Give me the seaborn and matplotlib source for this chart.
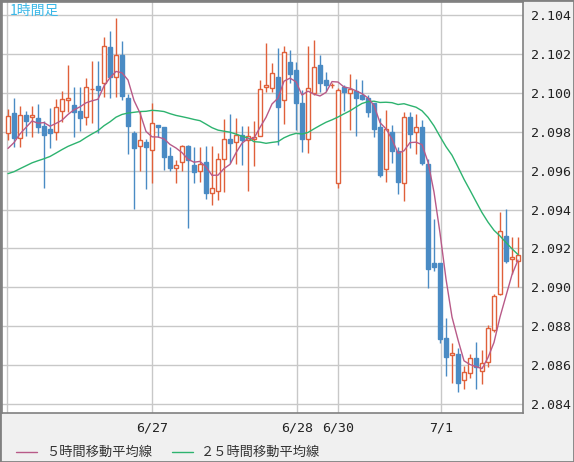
import numpy as np
import pandas as pd
import seaborn as sns
import matplotlib.pyplot as plt
from matplotlib.patches import Rectangle

# OHLC (hourly)
opens = [2.09793, 2.09896, 2.09768, 2.09886, 2.09876, 2.09870, 2.09829, 2.09814, 2.09798, 2.09906,
         2.09963, 2.09937, 2.09906, 2.09876, 2.10020, 2.10035, 2.10050, 2.10235, 2.10081, 2.10194,
         2.09973, 2.09793, 2.09726, 2.09747, 2.09706, 2.09834, 2.09824, 2.09675, 2.09613, 2.09644,
         2.09726, 2.09629, 2.09598, 2.09644, 2.09485, 2.09495, 2.09660, 2.09762, 2.09747, 2.09783,
         2.09757, 2.09762, 2.09778, 2.10030, 2.10025, 2.10081, 2.09963, 2.10158, 2.10117, 2.09948,
         2.09762, 2.09999, 2.10143, 2.10066, 2.10040, 2.09536, 2.10030, 2.09999, 2.10009, 2.09989,
         2.09973, 2.09948, 2.09824, 2.09608, 2.09798, 2.09701, 2.09536, 2.09876, 2.09798, 2.09824,
         2.09634, 2.09125, 2.09125, 2.08739, 2.08652, 2.08657, 2.08523, 2.08559, 2.08636, 2.08570,
         2.08616, 2.08780, 2.08966, 2.09264, 2.09145, 2.09135]
highs = [2.09917, 2.09973, 2.09932, 2.09906, 2.09932, 2.09942, 2.09855, 2.09922, 2.09968, 2.10009,
         2.10143, 2.10030, 2.10030, 2.10076, 2.10163, 2.10163, 2.10287, 2.10318, 2.10385, 2.10266,
         2.09994, 2.09804, 2.09906, 2.09762, 2.09948, 2.09834, 2.09824, 2.09721, 2.09655, 2.09732,
         2.09732, 2.09721, 2.09721, 2.09726, 2.09726, 2.09690, 2.09865, 2.09891, 2.09870, 2.09829,
         2.09829, 2.09855, 2.10066, 2.10256, 2.10153, 2.10230, 2.10241, 2.10220, 2.10158, 2.10014,
         2.10241, 2.10271, 2.10194, 2.10107, 2.10050, 2.10025, 2.10040, 2.10097, 2.10071, 2.10066,
         2.09989, 2.09948, 2.09870, 2.09912, 2.09834, 2.09721, 2.09901, 2.09901, 2.09891, 2.09860,
         2.09660, 2.09351, 2.09125, 2.08842, 2.08714, 2.08688, 2.08595, 2.08657, 2.08719, 2.08678,
         2.08806, 2.08966, 2.09387, 2.09403, 2.09259, 2.09259]
lows = [2.09757, 2.09721, 2.09721, 2.09778, 2.09773, 2.09793, 2.09511, 2.09716, 2.09757, 2.09850,
        2.09901, 2.09773, 2.09804, 2.09834, 2.09845, 2.09793, 2.09978, 2.09973, 2.09978, 2.09963,
        2.09685, 2.09403, 2.09598, 2.09505, 2.09536, 2.09773, 2.09603, 2.09598, 2.09536, 2.09598,
        2.09305, 2.09536, 2.09541, 2.09454, 2.09423, 2.09449, 2.09490, 2.09639, 2.09634, 2.09629,
        2.09495, 2.09624, 2.09778, 2.10004, 2.10004, 2.09732, 2.09840, 2.10050, 2.09809, 2.09696,
        2.09690, 2.09989, 2.10004, 2.10009, 2.10025, 2.09511, 2.09906, 2.09809, 2.09778, 2.09963,
        2.09876, 2.09773, 2.09567, 2.09541, 2.09639, 2.09480, 2.09444, 2.09716, 2.09685, 2.09629,
        2.08996, 2.09084, 2.08714, 2.08544, 2.08508, 2.08462, 2.08477, 2.08536, 2.08477, 2.08503,
        2.08590, 2.08770, 2.08960, 2.09125, 2.09068, 2.09001]
closes = [2.09881, 2.09768, 2.09886, 2.09855, 2.09886, 2.09824, 2.09783, 2.09793, 2.09927, 2.09968,
          2.09973, 2.09901, 2.09870, 2.10030, 2.10020, 2.10014, 2.10241, 2.10081, 2.10194, 2.09984,
          2.09829, 2.09716, 2.09757, 2.09721, 2.09845, 2.09824, 2.09670, 2.09613, 2.09629, 2.09726,
          2.09655, 2.09593, 2.09634, 2.09485, 2.09511, 2.09660, 2.09762, 2.09742, 2.09783, 2.09757,
          2.09778, 2.09773, 2.10020, 2.10040, 2.10102, 2.09927, 2.10210, 2.10097, 2.09948, 2.09762,
          2.10025, 2.10133, 2.10050, 2.10040, 2.10040, 2.10014, 2.10004, 2.10020, 2.09973, 2.09968,
          2.09901, 2.09814, 2.09577, 2.09814, 2.09701, 2.09541, 2.09876, 2.09788, 2.09824, 2.09639,
          2.09094, 2.09104, 2.08734, 2.08642, 2.08662, 2.08508, 2.08565, 2.08636, 2.08590, 2.08611,
          2.08791, 2.08955, 2.09289, 2.09135, 2.09156, 2.09166]
# closes before the visible window (estimated, only used to seed the 25h average)
prev_closes = [2.0952, 2.0950, 2.0948, 2.0951, 2.0955, 2.0953, 2.0950, 2.0949, 2.0952, 2.0956,
               2.0958, 2.0955, 2.0953, 2.0956, 2.0959, 2.0961, 2.0958, 2.0960, 2.0963, 2.0965,
               2.0962, 2.0966, 2.0969, 2.0972]

date_labels = ["", "6/27", "6/28", "6/30", "7/1"]
date_pos = [-0.17, 24, 48.2, 55, 72.2]

up_col = "#e0603a"
dn_col = "#4a8bc4"
ma5_col = "#b85a88"
ma25_col = "#2db36f"

df = pd.DataFrame({"open": opens, "high": highs, "low": lows, "close": closes})
df["i"] = np.arange(len(df))
full = pd.Series(prev_closes + closes)
df["ma5"] = full.rolling(5).mean().values[len(prev_closes):]
df["ma25"] = full.rolling(25, min_periods=1).mean().values[len(prev_closes):]

sns.set_style("white")
fig = plt.figure(figsize=(5.74, 4.62), dpi=100, facecolor="#f0f0f0")
ax = fig.add_axes([2/574, 49/462, 521/574, 411/462])
ax.set_facecolor("white")

yt = np.arange(2.084, 2.1041, 0.002)
for y in yt:
    ax.axhline(y, color="#c8c8c8", lw=1, zorder=0)
for x in date_pos:
    ax.axvline(x, color="#c8c8c8", lw=1, zorder=0)

w = 0.7
for r in df.itertuples():
    up = r.close >= r.open
    c = up_col if up else dn_col
    ax.vlines(r.i, r.low, r.high, color=c, lw=1, zorder=2)
    lo, hi = min(r.open, r.close), max(r.open, r.close)
    ax.add_patch(Rectangle((r.i - w/2, lo), w, max(hi - lo, 0.00002),
                           facecolor="white" if up else dn_col, edgecolor=c, lw=1, zorder=3))

sns.lineplot(data=df, x="i", y="ma25", color=ma25_col, lw=1, ax=ax, zorder=4)
sns.lineplot(data=df, x="i", y="ma5", color=ma5_col, lw=1, ax=ax, zorder=4)

ax.set_xlim(-1, -1 + 521/6)
ax.set_ylim(2.084 - 9/19450, 2.104 + 13/19450)
ax.yaxis.tick_right()
ax.set_yticks(yt)
ax.set_yticklabels([f"{v:.3f}" for v in yt])
ax.set_xticks(date_pos)
ax.set_xticklabels(date_labels)
ax.tick_params(length=0, labelsize=9.5, colors="#222222", pad=6)
for lbl in ax.get_xticklabels() + ax.get_yticklabels():
    lbl.set_family("DejaVu Sans Mono")
ax.set_xlabel("")
ax.set_ylabel("")
for s in ax.spines.values():
    s.set_color("#808080")
    s.set_linewidth(1.2)

ax.text(8/521, 1 - 2/411, "1時間足", transform=ax.transAxes, ha="left", va="top",
        color="#3bb8e8", fontsize=10, family=["Noto Sans CJK JP", "DejaVu Sans"])

# legend
fig.add_artist(plt.Line2D([16/574, 37/574], [10/462, 10/462], color=ma5_col, lw=1))
fig.text(46/574, 10/462, "５時間移動平均線", va="center", fontsize=9.5, color="#333333",
         family=["Noto Sans CJK JP", "DejaVu Sans"])
fig.add_artist(plt.Line2D([172/574, 193/574], [10/462, 10/462], color=ma25_col, lw=1))
fig.text(201/574, 10/462, "２５時間移動平均線", va="center", fontsize=9.5, color="#333333",
         family=["Noto Sans CJK JP", "DejaVu Sans"])

fig.add_artist(Rectangle((0, 0), 1, 1, transform=fig.transFigure, fill=False,
                         edgecolor="#808080", lw=2))
fig.savefig("out.png", dpi=100, facecolor=fig.get_facecolor())
